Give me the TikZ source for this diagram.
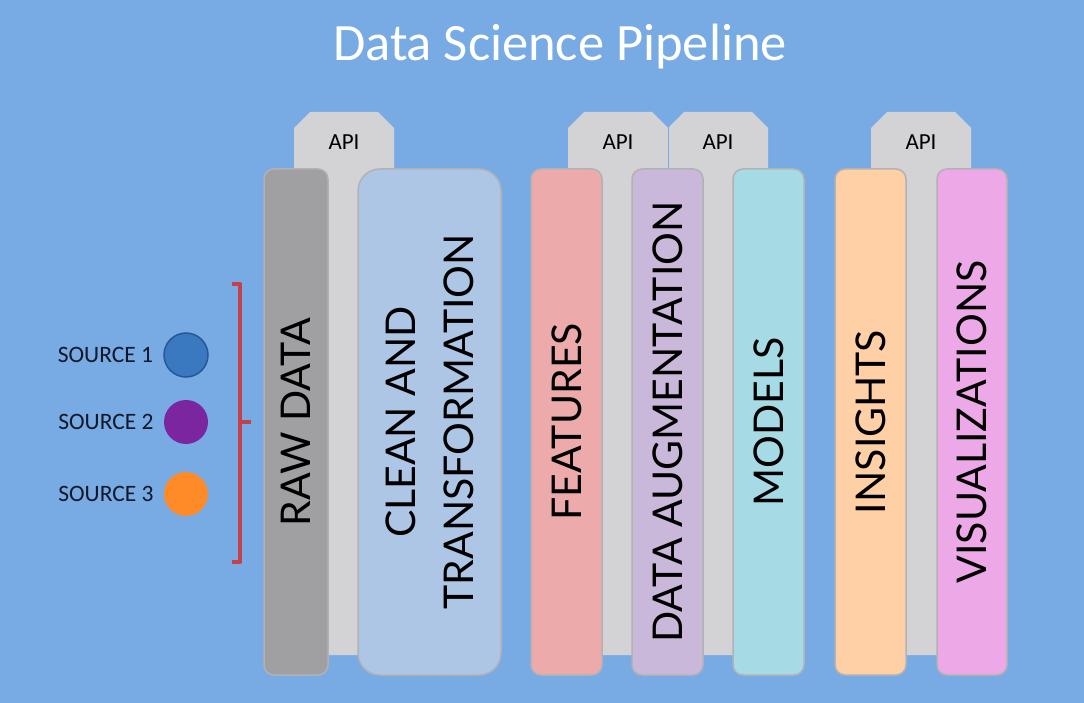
\documentclass[tikz,border=0pt]{standalone}
\usepackage{fontspec}
\setmainfont{Carlito}
\newfontfamily\barfont{Lato}
\usetikzlibrary{positioning}
\definecolor{bgc}{RGB}{120,170,228}
\definecolor{platec}{RGB}{211,211,214}
\definecolor{edgec}{RGB}{178,178,182}
\definecolor{rawc}{RGB}{160,160,162}
\definecolor{cleanc}{RGB}{173,198,230}
\definecolor{featc}{RGB}{237,170,170}
\definecolor{augc}{RGB}{201,184,218}
\definecolor{modelc}{RGB}{166,219,230}
\definecolor{insc}{RGB}{255,207,165}
\definecolor{visc}{RGB}{237,168,232}
\definecolor{bracec}{RGB}{196,64,76}
\definecolor{inkc}{RGB}{14,24,40}
\tikzset{
  bar/.style={draw=edgec, line width=1.5pt, rounded corners=10pt, rotate=90,
    minimum width=506, inner sep=0pt, align=center,
    font=\barfont\fontsize{41}{58}\selectfont, text=black},
  apilabel/.style={font=\fontsize{23}{26}\selectfont, text=black},
  src/.style={circle, minimum size=44, inner sep=0pt},
  srclabel/.style={font=\fontsize{23.5}{26}\selectfont, text=inkc, inner sep=0pt},
}
\begin{document}
\begin{tikzpicture}[x=1pt,y=-1pt]
\fill[bgc] (0,0) rectangle (1084,703);
\useasboundingbox (0,0) rectangle (1084,703);
\node[text=white, font=\fontsize{52.5}{60}\selectfont] (title) at (560,47) {Data Science Pipeline};
% API plates behind the bars
\foreach \x/\n in {294/a, 568/b, 668/c, 871/d} {
  \fill[platec] (\x,655) -- (\x,128) -- (\x+16,112) -- (\x+84,112) -- (\x+100,128) -- (\x+100,655) -- cycle;
  \node[apilabel] (api\n) at (\x+50,142) {API};
}
\draw[bgc, line width=1pt] (668,112) -- (668,168);
% stages
\node[bar, fill=rawc, minimum height=64] (raw) at (296,422) {RAW DATA};
\node[bar, fill=cleanc, minimum height=143, rounded corners=22pt] (clean) at (429.5,422) {CLEAN AND\\TRANSFORMATION};
\node[bar, fill=featc, minimum height=71] (feat) at (566.5,422) {FEATURES};
\node[bar, fill=augc, minimum height=71] (aug) at (667.5,422) {DATA AUGMENTATION};
\node[bar, fill=modelc, minimum height=71] (models) at (768.5,422) {MODELS};
\node[bar, fill=insc, minimum height=71] (ins) at (870.5,422) {INSIGHTS};
\node[bar, fill=visc, minimum height=70] (vis) at (972,422) {VISUALIZATIONS};
% sources
\node[src, fill={rgb,255:red,58;green,120;blue,191}, draw={rgb,255:red,40;green,88;blue,145}, line width=1.5pt] (s1) at (186,355) {};
\node[src, fill={rgb,255:red,123;green,37;blue,160}] (s2) at (186,422) {};
\node[src, fill={rgb,255:red,255;green,138;blue,40}] (s3) at (186,494) {};
\node[srclabel, left=10pt of s1] (lab1) {SOURCE 1};
\node[srclabel, left=10pt of s2] (lab2) {SOURCE 2};
\node[srclabel, left=10pt of s3] (lab3) {SOURCE 3};
% bracket
\draw[bracec, line width=4pt, line join=round] (232,284) -- (240,284) -- (240,562) -- (232,562);
\draw[bracec, line width=4pt] (240,422) -- (251,422);
\end{tikzpicture}
\end{document}
